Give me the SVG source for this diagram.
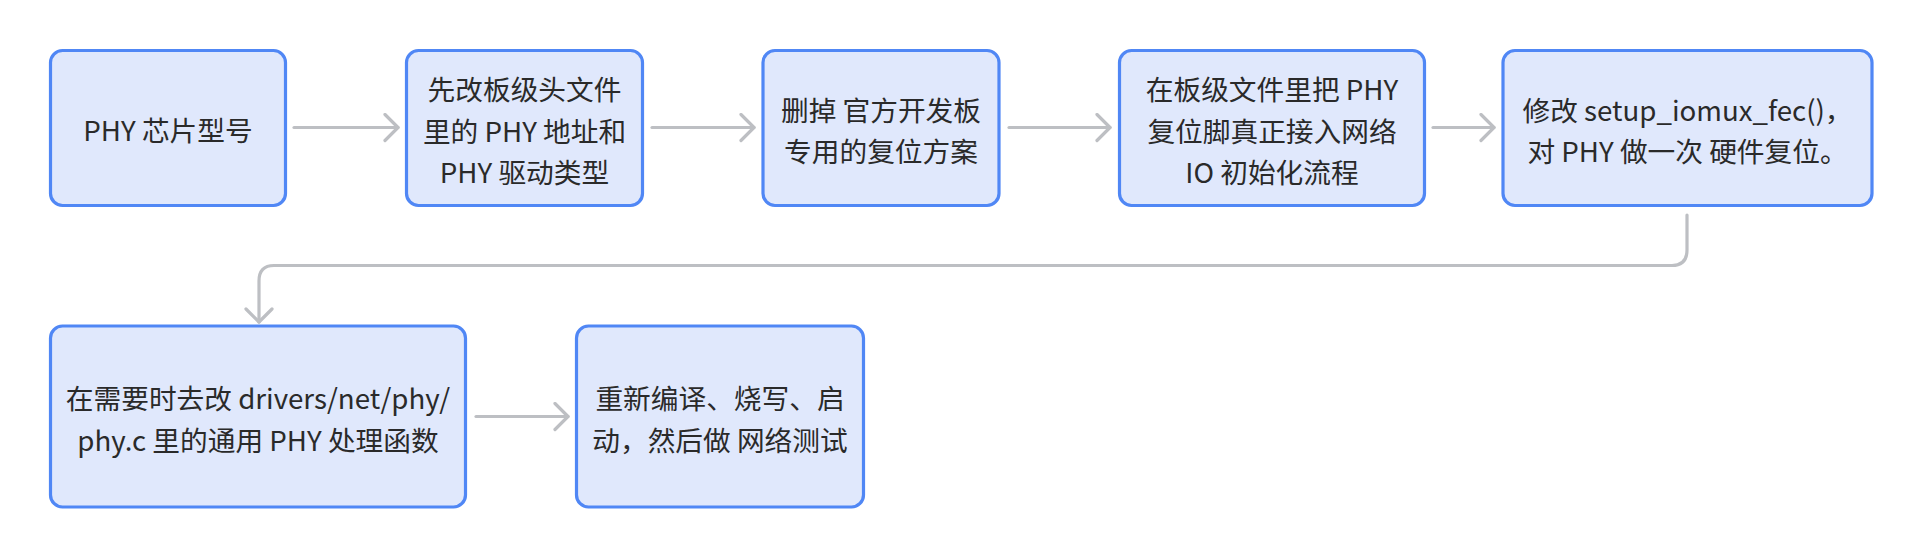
<svg xmlns="http://www.w3.org/2000/svg" width="1922" height="558" viewBox="0 0 1922 558">
<style>
.box{fill:#e0e8fc;stroke:#5087f5;stroke-width:3.2}
.t{font-family:"Noto Sans CJK SC","Noto Sans",sans-serif;font-size:27.7px;fill:#2a2a2a;text-anchor:middle}
.e{fill:none;stroke:#bdbfc3;stroke-width:3.2;stroke-linecap:round;stroke-linejoin:round}
</style>
<defs>
<marker id="ah" markerUnits="userSpaceOnUse" markerWidth="20" markerHeight="30" viewBox="0 0 20 30" refX="16" refY="15" orient="auto">
<path d="M3,2 L16,15 L3,28" fill="none" stroke="#bdbfc3" stroke-width="3.2" stroke-linecap="round" stroke-linejoin="round"/>
</marker>
</defs>
<rect width="1922" height="558" fill="#ffffff"/>
<g id="edges">
<path class="e" d="M294,127.5 H398" marker-end="url(#ah)"/>
<path class="e" d="M652,127.5 H754" marker-end="url(#ah)"/>
<path class="e" d="M1009,127.5 H1110" marker-end="url(#ah)"/>
<path class="e" d="M1433,127.5 H1494" marker-end="url(#ah)"/>
<path class="e" d="M1687,215 V250 Q1687,265.5 1672,265.5 H274 Q259,265.5 259,281 V322" marker-end="url(#ah)"/>
<path class="e" d="M476,416.5 H568" marker-end="url(#ah)"/>
</g>
<g id="n1">
<rect class="box" x="50.5" y="50.5" width="235" height="155" rx="12"/>
<text class="t" x="168" y="141">PHY 芯片型号</text>
</g>
<g id="n2">
<rect class="box" x="406.5" y="50.5" width="236" height="155" rx="12"/>
<text class="t" x="524.5" y="100">先改板级头文件</text>
<text class="t" x="524.5" y="141.5">里的 PHY 地址和</text>
<text class="t" x="524.5" y="183">PHY 驱动类型</text>
</g>
<g id="n3">
<rect class="box" x="763" y="50.5" width="236" height="155" rx="12"/>
<text class="t" x="881" y="120.5">删掉 官方开发板</text>
<text class="t" x="881" y="162">专用的复位方案</text>
</g>
<g id="n4">
<rect class="box" x="1119.5" y="50.5" width="305" height="155" rx="12"/>
<text class="t" x="1272" y="100">在板级文件里把 PHY</text>
<text class="t" x="1272" y="141.5">复位脚真正接入网络</text>
<text class="t" x="1272" y="183">IO 初始化流程</text>
</g>
<g id="n5">
<rect class="box" x="1503" y="50.5" width="369" height="155" rx="12"/>
<text class="t" x="1687.5" y="120.5">修改 setup_iomux_fec()，</text>
<text class="t" x="1687.5" y="162">对 PHY 做一次 硬件复位。</text>
</g>
<g id="n6">
<rect class="box" x="50.5" y="326" width="415" height="181" rx="12"/>
<text class="t" x="258" y="409">在需要时去改 drivers/net/phy/</text>
<text class="t" x="258" y="451">phy.c 里的通用 PHY 处理函数</text>
</g>
<g id="n7">
<rect class="box" x="576.5" y="326" width="287" height="181" rx="12"/>
<text class="t" x="720" y="409">重新编译、烧写、启</text>
<text class="t" x="720" y="451">动，然后做 网络测试</text>
</g>
</svg>
